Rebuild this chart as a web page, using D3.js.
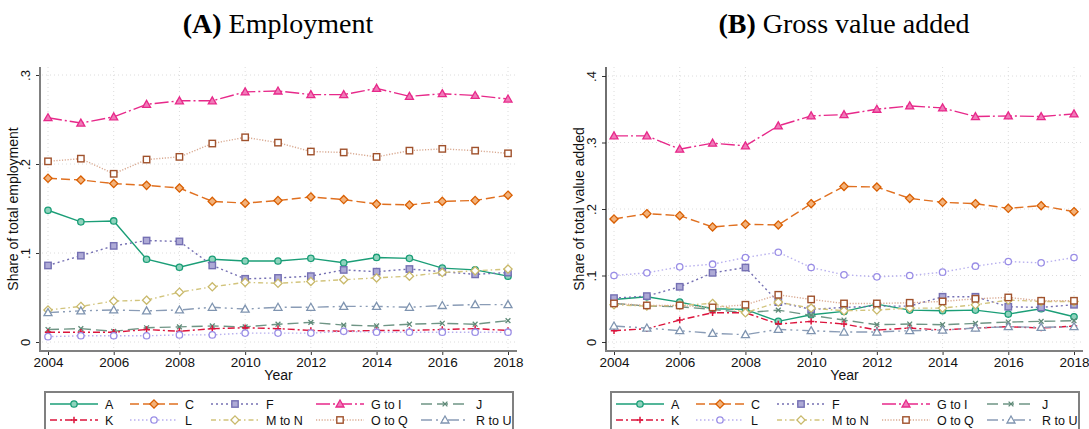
<!DOCTYPE html>
<html>
<head>
<meta charset="utf-8">
<script src="https://cdnjs.cloudflare.com/ajax/libs/d3/7.8.5/d3.min.js"></script>
<style>
  body { margin: 0; background: #fff; }
  svg { display: block; font-family: "Liberation Sans", Arial, sans-serif; }
</style>
</head>
<body>
<div id="chart"></div>
<script>

var years = [2004, 2005, 2006, 2007, 2008, 2009, 2010, 2011, 2012, 2013, 2014, 2015, 2016, 2017, 2018];
var sectors = ["A", "C", "F", "G to I", "J", "K", "L", "M to N", "O to Q", "R to U"];
var xTicks = [2004, 2006, 2008, 2010, 2012, 2014, 2016, 2018];
var empTicks = [0, 0.1, 0.2, 0.3];
var empTickLabels = ["0", ".1", ".2", ".3"];
var gvaTicks = [0, 0.1, 0.2, 0.3, 0.4];
var gvaTickLabels = ["0", ".1", ".2", ".3", ".4"];

// (A) employment shares
var empA   = [0.148, 0.135, 0.136, 0.093, 0.084, 0.093, 0.091, 0.091, 0.094, 0.089, 0.095, 0.094, 0.083, 0.081, 0.074];
var empC   = [0.184, 0.182, 0.178, 0.176, 0.173, 0.158, 0.156, 0.159, 0.163, 0.160, 0.155, 0.154, 0.158, 0.159, 0.165];
var empF   = [0.086, 0.097, 0.108, 0.114, 0.113, 0.086, 0.071, 0.072, 0.074, 0.081, 0.079, 0.082, 0.079, 0.076, 0.078];
var empG   = [0.252, 0.246, 0.253, 0.267, 0.271, 0.271, 0.281, 0.282, 0.278, 0.278, 0.285, 0.276, 0.279, 0.277, 0.273];
var empJ   = [0.014, 0.015, 0.012, 0.016, 0.017, 0.018, 0.017, 0.020, 0.022, 0.019, 0.018, 0.020, 0.021, 0.020, 0.024];
var empK   = [0.011, 0.011, 0.011, 0.014, 0.012, 0.015, 0.016, 0.015, 0.013, 0.012, 0.013, 0.013, 0.014, 0.015, 0.013];
var empL   = [0.006, 0.007, 0.007, 0.007, 0.008, 0.008, 0.010, 0.010, 0.010, 0.012, 0.011, 0.011, 0.011, 0.011, 0.011];
var empM   = [0.036, 0.040, 0.046, 0.047, 0.056, 0.062, 0.067, 0.066, 0.068, 0.070, 0.072, 0.074, 0.078, 0.080, 0.082];
var empO   = [0.203, 0.206, 0.189, 0.205, 0.208, 0.223, 0.230, 0.224, 0.214, 0.213, 0.208, 0.215, 0.217, 0.215, 0.212];
var empR   = [0.033, 0.035, 0.036, 0.035, 0.036, 0.039, 0.037, 0.039, 0.039, 0.040, 0.040, 0.039, 0.041, 0.042, 0.042];

// (B) gross value added shares
var gvaA   = [0.064, 0.068, 0.060, 0.050, 0.049, 0.031, 0.041, 0.046, 0.057, 0.048, 0.047, 0.048, 0.042, 0.050, 0.038];
var gvaC   = [0.185, 0.193, 0.190, 0.173, 0.177, 0.176, 0.208, 0.234, 0.233, 0.216, 0.210, 0.208, 0.201, 0.205, 0.196];
var gvaF   = [0.066, 0.069, 0.083, 0.104, 0.112, 0.060, 0.049, 0.052, 0.054, 0.054, 0.068, 0.068, 0.053, 0.052, 0.056];
var gvaG   = [0.310, 0.310, 0.290, 0.299, 0.295, 0.325, 0.340, 0.342, 0.350, 0.355, 0.352, 0.339, 0.340, 0.339, 0.343];
var gvaJ   = [0.058, 0.054, 0.053, 0.049, 0.044, 0.048, 0.040, 0.033, 0.026, 0.027, 0.026, 0.028, 0.030, 0.031, 0.032];
var gvaK   = [0.017, 0.020, 0.033, 0.044, 0.044, 0.027, 0.031, 0.027, 0.018, 0.021, 0.018, 0.021, 0.023, 0.021, 0.024];
var gvaL   = [0.100, 0.104, 0.113, 0.117, 0.127, 0.135, 0.112, 0.101, 0.098, 0.100, 0.105, 0.114, 0.121, 0.119, 0.127];
var gvaM   = [0.056, 0.054, 0.055, 0.058, 0.044, 0.060, 0.051, 0.047, 0.048, 0.051, 0.051, 0.056, 0.063, 0.061, 0.061];
var gvaO   = [0.058, 0.055, 0.055, 0.052, 0.056, 0.071, 0.064, 0.058, 0.058, 0.059, 0.061, 0.065, 0.067, 0.062, 0.062];
var gvaR   = [0.024, 0.021, 0.017, 0.013, 0.011, 0.019, 0.017, 0.015, 0.015, 0.017, 0.018, 0.021, 0.023, 0.022, 0.023];

var empSeries = [empA, empC, empF, empG, empJ, empK, empL, empM, empO, empR];
var gvaSeries = [gvaA, gvaC, gvaF, gvaG, gvaJ, gvaK, gvaL, gvaM, gvaO, gvaR];

// look of each sector, same order as sectors
var styles = [
	{ color: "#1b9e77", line: "#1b9e77", dash: null,              marker: "circle",   fill: "#8fd3bd" },
	{ color: "#d95f02", line: "#e07020", dash: "9,4",             marker: "diamond",  fill: "#f3b27a" },
	{ color: "#7570b3", line: "#7570b3", dash: "2,3",             marker: "square",   fill: "#aeaad6" },
	{ color: "#e7298a", line: "#e7298a", dash: "14,3,2,3",        marker: "triangle", fill: "#f07ab8" },
	{ color: "#5f8a78", line: "#6f9585", dash: "11,5",            marker: "x",        fill: "none" },
	{ color: "#dc143c", line: "#dc143c", dash: "7,3,2,3",         marker: "plus",     fill: "none" },
	{ color: "#9a8ee6", line: "#b8b0ee", dash: "1.5,2.5",         marker: "circle",   fill: "#fff" },
	{ color: "#c9b96b", line: "#d2c47c", dash: "5,3,1.5,3",       marker: "diamond",  fill: "#fff" },
	{ color: "#a0522d", line: "#d9aa92", dash: "1.2,1.6",         marker: "square",   fill: "#fff" },
	{ color: "#7f94b0", line: "#8a9cb6", dash: "11,4,2,4,2,4",    marker: "triangle", fill: "#fff" }
];

var width = 1089, height = 429;
var sansFont = "'Liberation Sans', Arial, sans-serif";

var svg = d3.select("#chart").append("svg")
	.attr("width", width)
	.attr("height", height);

function drawMarker(g, type, x, y, st) {
	var s = 3.2;
	if (type == "circle") {
		g.append("circle").attr("cx", x).attr("cy", y).attr("r", s)
			.attr("fill", st.fill).attr("stroke", st.color).attr("stroke-width", 1.3);
	} else if (type == "square") {
		g.append("rect").attr("x", x - s).attr("y", y - s).attr("width", 2 * s).attr("height", 2 * s)
			.attr("fill", st.fill).attr("stroke", st.color).attr("stroke-width", 1.4);
	} else if (type == "diamond") {
		var d = s + 0.9;
		g.append("path").attr("d", "M" + x + "," + (y - d) + "L" + (x + d) + "," + y + "L" + x + "," + (y + d) + "L" + (x - d) + "," + y + "Z")
			.attr("fill", st.fill).attr("stroke", st.color).attr("stroke-width", 1.3);
	} else if (type == "triangle") {
		var t = s + 0.8;
		g.append("path").attr("d", "M" + x + "," + (y - t) + "L" + (x + t) + "," + (y + t * 0.75) + "L" + (x - t) + "," + (y + t * 0.75) + "Z")
			.attr("fill", st.fill).attr("stroke", st.color).attr("stroke-width", 1.3);
	} else if (type == "x") {
		var k = 2.4;
		g.append("path").attr("d", "M" + (x - k) + "," + (y - k) + "L" + (x + k) + "," + (y + k) + "M" + (x - k) + "," + (y + k) + "L" + (x + k) + "," + (y - k))
			.attr("stroke", st.color).attr("stroke-width", 1.3).attr("fill", "none");
	} else if (type == "plus") {
		var p = 3.2;
		g.append("path").attr("d", "M" + (x - p) + "," + y + "L" + (x + p) + "," + y + "M" + x + "," + (y - p) + "L" + x + "," + (y + p))
			.attr("stroke", st.color).attr("stroke-width", 1.5).attr("fill", "none");
	}
}

function drawPanel(dx, title, titleTag, seriesList, yMax, yTicks, yTickLabels, yTitle, yAxisColor, yAxisWidth) {
	var g = svg.append("g").attr("transform", "translate(" + dx + ",0)");

	var axisX = 40, plotRight = 517, plotTop = 67, plotBottom = 351;

	var x = d3.scaleLinear().domain([2004, 2018]).range([48, 508]);
	var y = d3.scaleLinear().domain([0, yMax]).range([342, yMax == 0.3 ? 75 : 76]);

	// title
	var t = g.append("text")
		.attr("x", 278)
		.attr("y", 33)
		.attr("text-anchor", "middle")
		.style("font-family", "'Liberation Serif', 'DejaVu Serif', serif")
		.style("font-size", "28px")
		.attr("fill", "#000");
	t.append("tspan").style("font-weight", "bold").text(titleTag);
	t.append("tspan").text(" " + title);

	// grid
	var grid = g.append("g");
	grid.selectAll(".hg").data(yTicks).enter().append("line")
		.attr("x1", axisX + 2).attr("x2", plotRight)
		.attr("y1", function(d) { return y(d); }).attr("y2", function(d) { return y(d); })
		.attr("stroke", "#dcdcdc").attr("stroke-width", 1).attr("stroke-dasharray", "1,3");
	grid.selectAll(".vg").data(xTicks).enter().append("line")
		.attr("x1", function(d) { return x(d); }).attr("x2", function(d) { return x(d); })
		.attr("y1", plotTop).attr("y2", plotBottom - 1)
		.attr("stroke", "#dcdcdc").attr("stroke-width", 1).attr("stroke-dasharray", "1,3");

	// axes
	var yAxis = d3.axisLeft(y).tickValues(yTicks).tickSize(4).tickFormat(function(d, i) { return yTickLabels[i]; });
	var ya = g.append("g").attr("transform", "translate(" + axisX + ",0)").call(yAxis);
	ya.select(".domain").remove();
	ya.selectAll(".tick line").attr("stroke", "#333");
	ya.selectAll(".tick text")
		.attr("x", 0).attr("dy", null)
		.attr("transform", "translate(-10,0) rotate(-90)")
		.attr("text-anchor", "middle")
		.style("font-family", sansFont)
		.style("font-size", "13px")
		.attr("fill", "#111");
	g.append("line")
		.attr("x1", axisX).attr("x2", axisX)
		.attr("y1", plotTop).attr("y2", plotBottom + 1)
		.attr("stroke", yAxisColor).attr("stroke-width", yAxisWidth);

	var xAxis = d3.axisBottom(x).tickValues(xTicks).tickSize(4).tickFormat(d3.format("d"));
	var xa = g.append("g").attr("transform", "translate(0," + plotBottom + ")").call(xAxis);
	xa.select(".domain").remove();
	xa.selectAll(".tick line").attr("stroke", "#333");
	xa.selectAll(".tick text")
		.attr("y", 6)
		.style("font-family", sansFont)
		.style("font-size", "13.5px")
		.attr("fill", "#111");
	g.append("line")
		.attr("x1", axisX - 1).attr("x2", plotRight)
		.attr("y1", plotBottom).attr("y2", plotBottom)
		.attr("stroke", "#808080").attr("stroke-width", 2);

	// axis titles
	g.append("text")
		.attr("transform", "translate(18," + ((plotTop + plotBottom) / 2) + ") rotate(-90)")
		.attr("text-anchor", "middle")
		.style("font-size", "14px")
		.attr("fill", "#111")
		.text(yTitle);
	g.append("text")
		.attr("x", (axisX + plotRight) / 2)
		.attr("y", 380)
		.attr("text-anchor", "middle")
		.style("font-size", "14px")
		.attr("fill", "#111")
		.text("Year");

	// lines and markers
	var line = d3.line()
		.x(function(d, i) { return x(years[i]); })
		.y(function(d) { return y(d); });

	for (var s = 0; s < seriesList.length; s++) {
		var st = styles[s];
		var sg = g.append("g").attr("class", "series");
		sg.append("path")
			.datum(seriesList[s])
			.attr("d", line)
			.attr("fill", "none")
			.attr("stroke", st.line)
			.attr("stroke-width", 1.4)
			.attr("stroke-dasharray", st.dash);
		for (var i = 0; i < years.length; i++) {
			drawMarker(sg, st.marker, x(years[i]), y(seriesList[s][i]), st);
		}
	}

	// legend
	var lg = g.append("g");
	lg.append("rect")
		.attr("x", 45).attr("y", 392)
		.attr("width", 468).attr("height", 50)
		.attr("fill", "#fff")
		.attr("stroke", "#808080").attr("stroke-width", 2);
	var colX = [50, 130, 211, 316, 421];
	var rowY = [404, 420];
	for (var s = 0; s < sectors.length; s++) {
		var st = styles[s];
		var cx = colX[s % 5], cy = rowY[Math.floor(s / 5)];
		lg.append("line")
			.attr("x1", cx).attr("x2", cx + 48)
			.attr("y1", cy).attr("y2", cy)
			.attr("stroke", st.line).attr("stroke-width", 1.4)
			.attr("stroke-dasharray", st.dash);
		drawMarker(lg, st.marker, cx + 24, cy, st);
		lg.append("text")
			.attr("x", cx + 55).attr("y", cy + 4.5)
			.style("font-size", "12.5px")
			.attr("fill", "#111")
			.text(sectors[s]);
	}
}

drawPanel(0, "Employment", "(A)", empSeries, 0.3, empTicks, empTickLabels, "Share of total employment", "#808080", 2);
drawPanel(566, "Gross value added", "(B)", gvaSeries, 0.4, gvaTicks, gvaTickLabels, "Share of total value added", "#222", 1.3);

</script>
</body>
</html>
